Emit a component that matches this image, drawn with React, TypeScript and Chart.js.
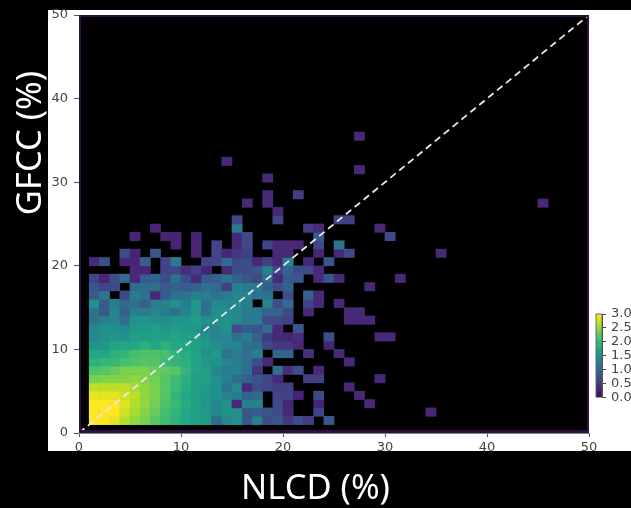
import React, { useEffect, useRef } from "react";
import { Chart, registerables } from "chart.js";

Chart.register(...registerables);

const xTitle = "NLCD (%)";
const yTitle = "GFCC (%)";
const axisMax = 50;
const tickStep = 10;
const barTicks = 0.5;
const diagonal = [{ x: 0, y: 0 }, { x: 50, y: 50 }];

// log10(count) per row, starting at row 1; each row starts at column 1. 0 = empty.
const denseRows: number[][] = [
  [3,3,2.9,2.65,2.5,2.4,2.2,2.05,1.9,1.8,1.7,1.6,1.05,1.35,1.5,.8,1.3,.7,.8,.5,.7,.55,0,.8],
  [3,3,3,2.78,2.6,2.45,2.3,2.1,1.95,1.8,1.7,1.6,1.35,1.5,1.5,.8,.85,.8,.7,.35,0,0,.6],
  [3,3,3,2.85,2.65,2.5,2.35,2.15,2,1.85,1.7,1.55,1.35,1.5,.35,1.3,1.3,0,.7,.3,0,0,.3,0,0,0,0,.35],
  [2.92,2.9,2.9,2.78,2.7,2.5,2.4,2.2,1.95,1.8,1.7,1.6,1.5,1.35,1.25,.95,1.05,0,.6,.6,.3,0,.65,0,0,0,.35],
  [2.7,2.7,2.7,2.7,2.6,2.5,2.4,2.2,2.05,1.85,1.7,1.6,1.5,1.1,1.4,.35,.7,.6,.55,.55,0,0,0,0,0,.35],
  [2.4,2.42,2.45,2.45,2.5,2.45,2.35,2.2,2.05,1.9,1.7,1.65,1.5,1.3,1.05,.9,.8,.65,.35,0,0,.55,.55,0,0,0,0,0,.35],
  [2.15,2.2,2.3,2.4,2.4,2.4,2.3,2.25,2.2,1.95,1.75,1.65,1.35,1.25,1.3,1.1,.45,0,1.1,.4,.7,0,.35],
  [1.9,2,2,2.1,2.15,2.2,2.2,2.05,1.95,1.9,1.75,1.6,1.5,1.35,1.25,1.1,.7,.35,0,0,0,0,0,0,0,.35],
  [1.8,1.75,1.9,1.95,2.1,2.15,2.15,2.1,1.95,1.85,1.75,1.5,1.6,1.15,1.25,1.1,1.3,0,.95,.95,0,.4,0,0,.35],
  [1.55,1.6,1.75,1.8,1.8,1.9,1.8,1.9,1.8,1.8,1.7,1.6,1.5,1.35,1.35,1.1,1.05,.65,.5,.5,.35,0,0,.3],
  [1.35,1.5,1.55,1.5,1.7,1.65,1.7,1.7,1.75,1.7,1.65,1.5,1.35,1.35,1.15,1.3,.9,.5,.35,.3,.4,0,0,.7,0,0,0,0,.35,.35],
  [1.35,1.5,1.5,1.4,1.6,1.6,1.65,1.55,1.65,1.6,1.55,1.35,1.35,1.5,.7,.85,.8,1.05,.35,0,.8],
  [1.15,1.3,1.35,1.1,1.5,1.55,1.5,1.5,1.55,1.55,1.65,1.5,1.5,1.5,1.35,1.25,1.25,.7,.7,.55,0,0,0,0,0,.35,.35,.35],
  [1.15,.85,1.35,.95,1.3,1.25,1.35,1.25,1.15,1.35,1.55,1.15,1.5,1.5,1.4,1.25,1.25,.95,.95,.65,0,.35,0,0,0,.35,.35],
  [1.5,.85,1.25,1.05,1.1,.95,1.25,1.3,1.5,1.25,1.6,1.1,1.4,1.35,1.4,1.3,0,1.35,.7,1.05,0,.6,.35,0,.35],
  [.85,1.15,0,.65,1.25,1.1,.35,.85,1.1,1.15,1.3,1.3,1.15,1.25,1.35,1.35,1.15,1.15,0,.7,0,.95,.35],
  [.8,.6,.65,0,1.05,1.05,1.1,.85,.9,.85,.95,1.1,1.05,.55,1.3,1.25,1.25,.9,.7,.95,0,0,0,0,0,0,0,.35],
  [.6,.3,.7,1.05,.35,.85,.95,.7,1.1,.7,.35,.85,.9,1.15,.95,.8,.65,1.1,.35,.85,.8,0,.35,.8,.35,0,0,0,0,0,.35],
  [0,0,0,0,.35,.3,0,.6,.6,.4,.55,.3,0,.35,.7,.7,.8,1.3,.6,.95,.7,.7,.35],
  [.35,.7,0,.3,.3,.9,0,.6,1.25,0,0,.6,.6,1.05,.65,.7,.35,.55,.35,1.3,0,.35,0,.8],
  [0,0,0,.7,.3,0,.8,0,0,0,.3,0,.6,.3,.5,.55,0,0,.35,.35,0,0,.3,0,.35,.65,0,0,0,0,0,0,0,0,.35],
  [0,0,0,0,0,0,0,0,.3,0,.3,0,.6,0,.35,.65,0,.6,.35,.35,.35,0,.65,0,1.15],
  [0,0,0,0,.3,0,0,.3,.3,0,.3,0,0,0,.35,.65,0,0,0,0,0,0,.9,0,0,0,0,0,0,.65],
  [0,0,0,0,0,0,.3,0,0,0,0,0,0,0,1.25,0,0,0,0,0,0,.55,.35,0,0,0,0,0,.35],
];

// isolated bins: [column, row, log10(count)]
const sparseCells: number[][] = [
  [34,2,.35],[15,25,.6],[19,25,.6],[25,25,.55],[26,25,.55],[19,26,.35],[16,27,.35],
  [18,27,.35],[45,27,.35],[18,28,.35],[21,28,.55],[18,30,.35],[27,31,.35],[14,32,.35],[27,35,.35],
];

const viridisStops = ["#440154","#482475","#414487","#355f8d","#2a788e","#21918c","#22a884","#44bf70","#7ad151","#bddf26","#fde725"];
const colourLevels = [0,.1,.2,.3,.4,.5,.6,.7,.8,.9,1,1.1,1.2,1.3,1.4,1.5,1.6,1.7,1.8,1.9,2,2.1,2.2,2.3,2.4,2.5,2.6,2.7,2.8,2.9];

function viridis(value: number): string {
  const t = Math.min(1, Math.max(0, value / 3)) * (viridisStops.length - 1);
  const i = Math.min(viridisStops.length - 2, Math.floor(t));
  const f = t - i;
  const hex = (s: string, k: number) => parseInt(s.slice(1 + k * 2, 3 + k * 2), 16);
  const c = [0, 1, 2].map((k) => Math.round(hex(viridisStops[i], k) * (1 - f) + hex(viridisStops[i + 1], k) * f));
  return `rgb(${c[0]},${c[1]},${c[2]})`;
}

const cells: { x: number; y: number[]; v: number }[] = [];
denseRows.forEach((row, r) =>
  row.forEach((v, c) => {
    if (v > 0) cells.push({ x: c + 1.5, y: [r + 1, r + 2], v });
  })
);
sparseCells.forEach(([c, r, v]) => cells.push({ x: c + 0.5, y: [r, r + 1], v }));

const tickFont = { family: "'DejaVu Sans'", size: 13 };

export default function App() {
  const mainRef = useRef<HTMLCanvasElement>(null);
  const barRef = useRef<HTMLCanvasElement>(null);

  useEffect(() => {
    const frame = {
      id: "frame",
      beforeDraw(chart: any) {
        const { ctx, chartArea: a } = chart;
        ctx.save();
        ctx.fillStyle = "#000";
        ctx.fillRect(0, 0, chart.width, chart.height);
        ctx.fillStyle = "#fff";
        ctx.fillRect(48, 10, chart.width - 48, 441);
        ctx.fillStyle = "#000";
        ctx.fillRect(a.left, a.top, a.right - a.left, a.bottom - a.top);
        ctx.restore();
      },
      afterDatasetsDraw(chart: any) {
        const { ctx, chartArea: a } = chart;
        ctx.save();
        ctx.strokeStyle = "#2e0f42";
        ctx.lineWidth = 2;
        ctx.strokeRect(a.left + 1, a.top + 1, a.right - a.left - 2, a.bottom - a.top - 2);
        ctx.fillStyle = "#2e0f42";
        ctx.fillRect(a.left, a.bottom - 3, a.right - a.left, 3);
        ctx.restore();
      },
      afterDraw(chart: any) {
        const { ctx } = chart;
        ctx.save();
        ctx.translate(31, 143);
        ctx.rotate(-Math.PI / 2);
        ctx.fillStyle = "#fff";
        ctx.font = "34.5px 'Noto Sans'";
        ctx.textAlign = "center";
        ctx.textBaseline = "middle";
        ctx.fillText(yTitle, 0, 0);
        ctx.restore();
      },
    };

    const main = new Chart(mainRef.current!, {
      type: "bar",
      data: {
        datasets: [
          {
            type: "line",
            data: diagonal,
            borderColor: "#efe4f2",
            borderWidth: 1.8,
            borderDash: [7, 4.5],
            pointRadius: 0,
            order: 0,
            clip: false,
          } as any,
          {
            type: "bar",
            data: cells as any,
            backgroundColor: cells.map((c) => viridis(c.v)),
            barThickness: 10.18,
            grouped: false,
            order: 1,
          } as any,
        ],
      },
      options: {
        responsive: false,
        animation: false,
        layout: { padding: { top: 15, right: 0, left: 0, bottom: 0 } },
        plugins: {
          legend: { display: false },
          tooltip: { enabled: false },
          title: {
            display: true,
            text: xTitle,
            position: "bottom",
            color: "#fff",
            font: { family: "'Noto Sans'", size: 34.5, weight: "normal" },
            padding: { top: 0.6, bottom: -2 },
          },
        },
        scales: {
          x: {
            type: "linear",
            offset: false,
            min: 0,
            max: axisMax,
            grid: { offset: false, drawOnChartArea: false, tickLength: 4, tickColor: "#555" },
            border: { color: "#888", width: 1 },
            ticks: { stepSize: tickStep, color: "#444", font: tickFont, padding: 3, maxRotation: 0 },
            afterFit: (s: any) => { s.height = 35; },
          },
          y: {
            type: "linear",
            min: 0,
            max: axisMax,
            grid: { drawOnChartArea: false, tickLength: 5, tickColor: "#555" },
            border: { color: "#888", width: 1 },
            ticks: { stepSize: tickStep, color: "#444", font: tickFont, padding: 6 },
            afterFit: (s: any) => { s.width = 79; },
          },
          rightGap: {
            type: "linear",
            position: "right",
            min: 0,
            max: axisMax,
            grid: { display: false },
            border: { display: false },
            ticks: { display: false },
            afterFit: (s: any) => { s.width = 42; },
          },
        },
      },
      plugins: [frame],
    } as any);

    const barFrame = {
      id: "barFrame",
      beforeDraw(chart: any) {
        const { ctx } = chart;
        ctx.save();
        ctx.fillStyle = "#fff";
        ctx.fillRect(0, 0, chart.width, chart.height);
        ctx.restore();
      },
      afterDatasetsDraw(chart: any) {
        const { ctx, chartArea: a } = chart;
        ctx.save();
        ctx.strokeStyle = "#555";
        ctx.lineWidth = 0.8;
        ctx.strokeRect(a.left, a.top, a.right - a.left, a.bottom - a.top);
        ctx.restore();
      },
    };

    const legend = new Chart(barRef.current!, {
      type: "bar",
      data: {
        datasets: [
          {
            data: colourLevels.map((l) => ({ x: 0.5, y: [l, l + 0.1] })) as any,
            backgroundColor: colourLevels.map((l) => viridis(l + 0.05)),
            barThickness: 6,
            grouped: false,
          } as any,
        ],
      },
      options: {
        responsive: false,
        animation: false,
        layout: { padding: { top: 14, left: 6, right: 0, bottom: 10 } },
        plugins: { legend: { display: false }, tooltip: { enabled: false } },
        scales: {
          x: { type: "linear", offset: false, min: 0, max: 1, display: false, grid: { offset: false } },
          y: {
            type: "linear",
            position: "right",
            min: 0,
            max: 3,
            grid: { drawOnChartArea: false, tickLength: 4, tickColor: "#444" },
            border: { color: "#555", width: 1 },
            ticks: {
              stepSize: barTicks,
              autoSkip: false,
              color: "#444",
              font: { family: "'DejaVu Sans'", size: 13 },
              padding: 5,
              callback: (v: any) => Number(v).toFixed(1),
            },
            afterFit: (s: any) => { s.width = 60; },
          },
        },
      },
      plugins: [barFrame],
    } as any);

    return () => {
      main.destroy();
      legend.destroy();
    };
  }, []);

  return (
    <div style={{ position: "absolute", left: 0, top: 0, width: 631, height: 508, overflow: "hidden", background: "#000" }}>
      <canvas ref={mainRef} width={631} height={508} style={{ position: "absolute", left: 0, top: 0 }} />
      <canvas ref={barRef} width={72} height={110} style={{ position: "absolute", left: 590, top: 300 }} />
    </div>
  );
}
